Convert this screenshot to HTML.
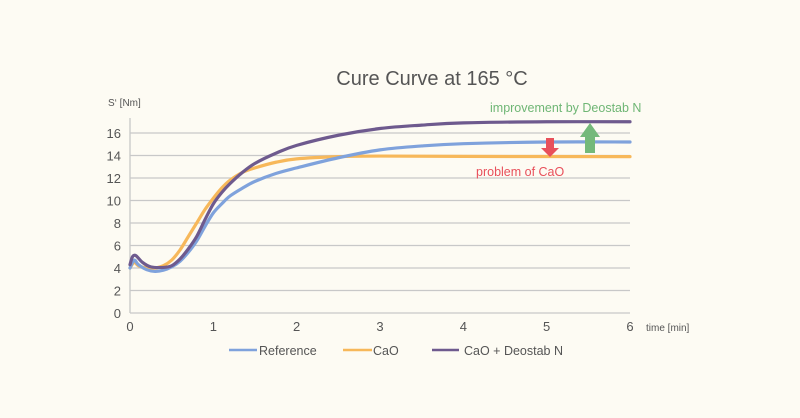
<!DOCTYPE html>
<html><head><meta charset="utf-8"><style>
html,body{margin:0;padding:0;background:#fdfbf3;}
svg{display:block;font-family:"Liberation Sans",sans-serif;}
</style></head><body>
<svg id="s" width="800" height="418" viewBox="0 0 800 418">
<rect width="800" height="418" fill="#fdfbf3"/>
<text x="432" y="85" font-size="20" fill="#555" text-anchor="middle">Cure Curve at 165 °C</text>
<text x="108" y="106" font-size="10" fill="#555">S‘ [Nm]</text>
<g id="grid" stroke="#c8c8c8" stroke-width="1.3"></g>
<line x1="130" y1="118" x2="130" y2="313" stroke="#c8c8c8" stroke-width="1.3"/>
<g id="lab" font-size="13" fill="#555"></g>
<text x="646" y="331" font-size="10" fill="#555">time [min]</text>
<g id="curves" fill="none" stroke-linecap="round" stroke-linejoin="round"></g>
<polygon points="546,138 554,138 554,148 559,148 550,157 541,148 546,148" fill="#e8505b"/>
<polygon points="585,153 595,153 595,137 600,137 590,123 580,137 585,137" fill="#74b97a"/>
<text x="490" y="112" font-size="12.5" fill="#6fb675">improvement by Deostab N</text>
<text x="476" y="176" font-size="12.5" fill="#e8505b">problem of CaO</text>
<g font-size="12.5" fill="#555">
<line x1="229" y1="350" x2="257" y2="350" stroke="#7fa2dc" stroke-width="2.5"/><text x="259" y="355">Reference</text>
<line x1="343" y1="350" x2="372" y2="350" stroke="#f7b85a" stroke-width="2.5"/><text x="373" y="355">CaO</text>
<line x1="432" y1="350" x2="459" y2="350" stroke="#6e5a8e" stroke-width="2.5"/><text x="464" y="355">CaO + Deostab N</text>
</g>
</svg>
<script>
const X=t=>130+t*83.333, Y=v=>313-v*11.25;
const ns="http://www.w3.org/2000/svg";
const g=document.getElementById('grid'),lab=document.getElementById('lab');
for(let v=0;v<=16;v+=2){const l=document.createElementNS(ns,'line');l.setAttribute('x1',130);l.setAttribute('x2',630);l.setAttribute('y1',Y(v));l.setAttribute('y2',Y(v));g.appendChild(l);
const t=document.createElementNS(ns,'text');t.setAttribute('x',121);t.setAttribute('y',Y(v)+5);t.setAttribute('text-anchor','end');t.textContent=v;lab.appendChild(t);}
for(let i=0;i<=6;i++){const t=document.createElementNS(ns,'text');t.setAttribute('x',X(i));t.setAttribute('y',331);t.setAttribute('text-anchor','middle');t.textContent=i;lab.appendChild(t);}
function path(pts){const p=pts.map(a=>[X(a[0]),Y(a[1])]);let d='M'+p[0];for(let i=0;i<p.length-1;i++){const p0=p[i-1]||p[i],p1=p[i],p2=p[i+1],p3=p[i+2]||p2;
const c1=[p1[0]+(p2[0]-p0[0])/6,p1[1]+(p2[1]-p0[1])/6],c2=[p2[0]-(p3[0]-p1[0])/6,p2[1]-(p3[1]-p1[1])/6];d+='C'+c1+' '+c2+' '+p2;}return d;}
const series=[
["#f7b85a",[[0,4.0],[0.05,4.5],[0.1,4.2],[0.2,4.0],[0.3,4.0],[0.4,4.2],[0.5,4.7],[0.6,5.6],[0.7,6.8],[0.8,8.0],[0.9,9.2],[1.0,10.2],[1.1,11.1],[1.2,11.8],[1.35,12.5],[1.5,12.9],[1.75,13.4],[2,13.7],[2.5,13.9],[3,13.95],[4,13.92],[6,13.9]]],
["#7fa2dc",[[0,4.0],[0.05,4.7],[0.1,4.3],[0.2,3.85],[0.3,3.7],[0.4,3.8],[0.5,4.1],[0.6,4.6],[0.7,5.4],[0.8,6.4],[0.9,7.7],[1.0,8.9],[1.1,9.7],[1.2,10.4],[1.35,11.1],[1.5,11.7],[1.75,12.4],[2,12.9],[2.5,13.8],[3,14.5],[3.5,14.85],[4,15.05],[5,15.2],[6,15.2]]],
["#6e5a8e",[[0,4.3],[0.03,5.0],[0.07,5.1],[0.15,4.5],[0.25,4.1],[0.4,4.05],[0.5,4.2],[0.6,4.8],[0.7,5.7],[0.8,6.8],[0.9,8.3],[1.0,9.7],[1.1,10.7],[1.2,11.5],[1.35,12.5],[1.5,13.3],[1.75,14.2],[2,14.9],[2.5,15.8],[3,16.4],[3.5,16.7],[4,16.9],[5,17.0],[6,17.0]]]];
const c=document.getElementById('curves');
for(const [col,pts] of series){const e=document.createElementNS(ns,'path');e.setAttribute('d',path(pts));e.setAttribute('stroke',col);e.setAttribute('stroke-width','3.2');c.appendChild(e);}
</script>
</body></html>
